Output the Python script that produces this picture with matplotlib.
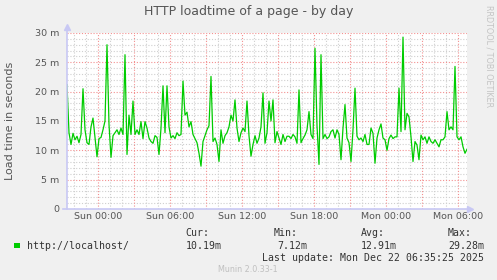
import numpy as np
import matplotlib
matplotlib.use('Agg')
import matplotlib.pyplot as plt
from matplotlib.patches import Rectangle

# time axis: hours relative to Sun 00:00, one reading every 10 minutes
t_start = -2.6
t_step = 1 / 6
span_hours = 400 / 12

# load time in milliseconds
load_sat_sun = [21.2, 13.0, 11.0, 12.9, 11.8, 12.4, 11.3, 12.7, 20.5, 13.5, 11.3, 11.0, 14.0, 15.5,
                12.2, 8.9, 12.0, 12.2, 13.5, 15.0, 28.0, 14.4, 8.8, 12.5, 13.0, 13.5, 12.7, 13.8,
                12.7, 26.3, 9.3, 16.0, 12.7, 18.4, 12.7, 13.5, 12.7, 14.9, 12.0, 14.9, 13.8]
load_sun_morning = [12.1, 11.5, 11.2, 12.5, 12.2, 9.3, 13.8, 21.0, 13.0, 21.0, 14.0, 12.1, 12.5, 12.0,
                    13.0, 12.5, 12.7, 21.8, 16.0, 16.5, 14.0, 14.9, 12.7, 12.0, 11.3, 9.5, 7.3, 11.5,
                    12.5, 13.5, 14.2, 22.6, 11.5, 12.1, 11.0, 8.1, 13.5, 11.2, 12.5, 13.0, 14.0]
load_sun_day = [16.0, 15.0, 18.6, 13.8, 11.5, 13.0, 13.8, 13.2, 18.4, 12.5, 9.0, 11.0, 12.5, 11.2,
                12.1, 14.0, 19.8, 11.2, 13.0, 18.4, 15.0, 18.6, 11.3, 13.2, 12.1, 11.0, 12.7, 11.5,
                12.4, 12.4, 12.0, 12.7, 12.3, 11.2, 20.3, 11.3, 12.0, 12.6, 13.5, 16.6, 12.7]
load_sun_evening = [12.0, 27.4, 14.2, 7.6, 26.3, 12.0, 12.7, 12.0, 12.3, 13.2, 13.5, 12.1, 13.5, 12.7,
                    8.4, 13.8, 17.8, 12.1, 11.3, 8.1, 13.5, 20.6, 12.4, 11.8, 12.1, 11.5, 12.7, 11.0,
                    11.0, 13.8, 12.9, 7.8, 12.1, 13.5, 14.5, 12.1, 11.8, 10.0, 12.0, 12.6, 12.0]
load_mon = [12.3, 12.3, 20.6, 13.2, 29.3, 13.5, 16.3, 15.7, 12.3, 8.1, 11.5, 10.9, 8.4, 12.6,
            11.8, 12.3, 11.2, 12.3, 11.5, 11.2, 11.8, 11.2, 10.6, 11.8, 11.8, 12.3, 16.6, 13.5,
            14.0, 13.5, 24.3, 12.3, 11.8, 12.3, 10.6, 9.5, 10.19]

tick_hours = [0, 6, 12, 18, 24, 30]
tick_labels = ['Sun 00:00', 'Sun 06:00', 'Sun 12:00', 'Sun 18:00', 'Mon 00:00', 'Mon 06:00']
y_ticks = [0, 5, 10, 15, 20, 25, 30]

stat_names = ['Cur:', 'Min:', 'Avg:', 'Max:']
stat_values = ['10.19m', '7.12m', '12.91m', '29.28m']

vals = np.array(load_sat_sun + load_sun_morning + load_sun_day + load_sun_evening + load_mon)
t = t_start + np.arange(len(vals)) * t_step

W, H = 497, 280
fig = plt.figure(figsize=(W / 100, H / 100), dpi=100, facecolor='#f0f0f0')
ax = fig.add_axes([67 / W, 1 - 209 / H, 400 / W, 176 / H])
ax.set_facecolor('white')
ax.set_xlim(t_start, t_start + span_hours)
ax.set_ylim(0, 30)

dots = (0, (1, 1.6))
for h in range(int(np.ceil(t_start)), int(t_start + span_hours) + 1):
    if h % 3 == 0:
        ax.axvline(h, color='#f39090', lw=0.8, ls=dots, zorder=1)
    else:
        ax.axvline(h, color='#cfcfcf', lw=0.8, ls=dots, zorder=0)
for v in range(1, 31):
    if v % 5 == 0:
        ax.axhline(v, color='#f39090', lw=0.8, ls=dots, zorder=1)
    else:
        ax.axhline(v, color='#cfcfcf', lw=0.8, ls=dots, zorder=0)

ax.plot(t, vals, color='#00cc00', lw=0.9, zorder=3)

for s in ax.spines.values():
    s.set_visible(False)
axis_col = '#c8c8f4'
ax.plot([0, 0], [0, 1.03], transform=ax.transAxes, color=axis_col, lw=1.2, clip_on=False, zorder=4)
ax.plot([-0.01, 1.0], [0, 0], transform=ax.transAxes, color=axis_col, lw=1.2, clip_on=False, zorder=4)
ax.plot([0], [1.035], marker='^', ms=4, color=axis_col, transform=ax.transAxes, clip_on=False)
ax.plot([1.008], [0], marker='>', ms=4, color=axis_col, transform=ax.transAxes, clip_on=False)

ax.set_yticks(y_ticks)
ax.set_yticklabels(['0' if v == 0 else '%d m' % v for v in y_ticks])
ax.set_xticks(tick_hours)
ax.set_xticklabels(tick_labels)
ax.tick_params(axis='y', length=0, pad=5.5, labelsize=6.8, labelcolor='#555555')
ax.tick_params(axis='x', length=0, pad=2.0, labelsize=6.8, labelcolor='#555555')

def px(x, y):
    return x / W, 1 - y / H

fig.text(*px(249, 12), 'HTTP loadtime of a page - by day', ha='center', va='center',
         fontsize=9.0, color='#555555')
fig.text(*px(10, 121), 'Load time in seconds', rotation=90, ha='center', va='center',
         fontsize=8.0, color='#555555')
fig.text(*px(489, 5), 'RRDTOOL / TOBI OETIKER', rotation=270, ha='center', va='top',
         fontsize=5.8, color='#c4c4c4')

mono = dict(family='DejaVu Sans Mono', fontsize=7.1, color='#333333', va='center')
fig.patches.append(Rectangle(px(14, 248), 5.5 / W, 5.5 / H, transform=fig.transFigure,
                             facecolor='#00cc00', edgecolor='none'))
fig.text(*px(26.5, 246), 'http://localhost/', **mono)
name_x = [185.5, 273.5, 361, 447.5]
val_right = [222, 307, 397, 484]
for nx, nm, vr, sv in zip(name_x, stat_names, val_right, stat_values):
    fig.text(*px(nx, 233.5), nm, ha='left', **mono)
    fig.text(*px(vr, 246), sv, ha='right', **mono)
fig.text(*px(484, 258), 'Last update: Mon Dec 22 06:35:25 2025', ha='right', **mono)
fig.text(*px(248, 269.5), 'Munin 2.0.33-1', ha='center', va='center', fontsize=5.8, color='#c0c0c0')

fig.savefig('out.png', dpi=100, facecolor=fig.get_facecolor())
